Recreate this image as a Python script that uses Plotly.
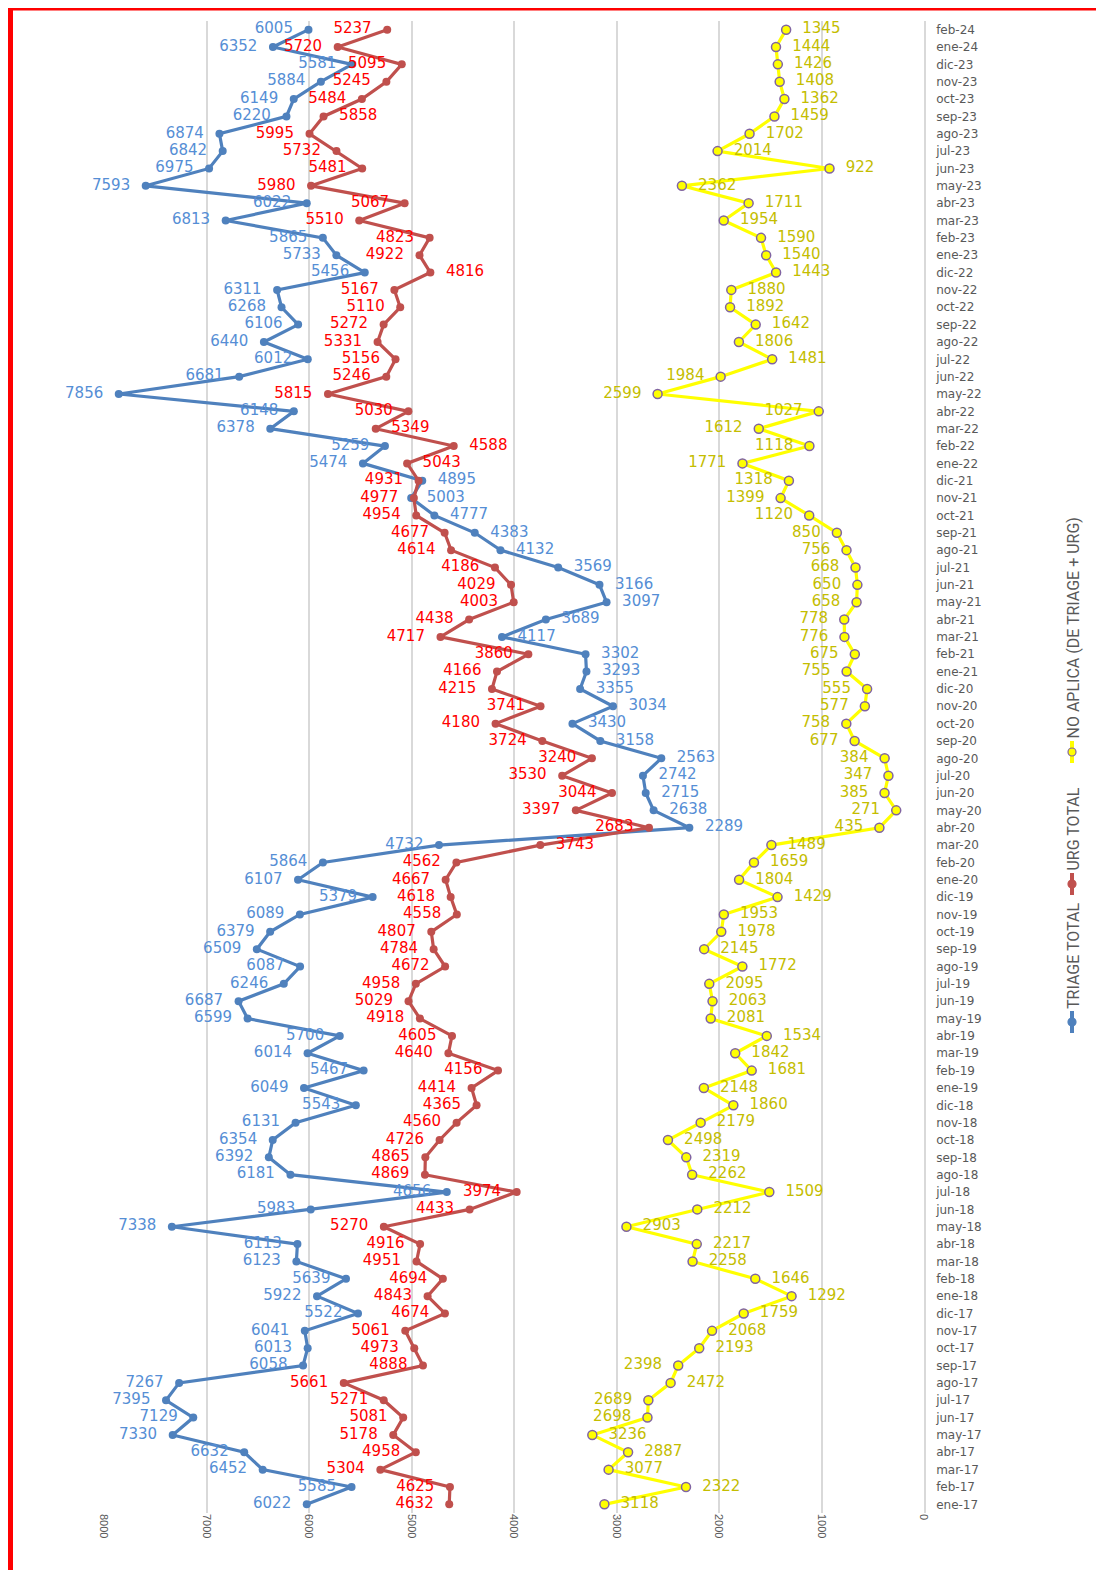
import plotly.graph_objects as go

months = [
    "ene-17", "feb-17", "mar-17", "abr-17", "may-17", "jun-17", "jul-17", "ago-17", "sep-17", "oct-17", "nov-17", "dic-17",
    "ene-18", "feb-18", "mar-18", "abr-18", "may-18", "jun-18", "jul-18", "ago-18", "sep-18", "oct-18", "nov-18", "dic-18",
    "ene-19", "feb-19", "mar-19", "abr-19", "may-19", "jun-19", "jul-19", "ago-19", "sep-19", "oct-19", "nov-19", "dic-19",
    "ene-20", "feb-20", "mar-20", "abr-20", "may-20", "jun-20", "jul-20", "ago-20", "sep-20", "oct-20", "nov-20", "dic-20",
    "ene-21", "feb-21", "mar-21", "abr-21", "may-21", "jun-21", "jul-21", "ago-21", "sep-21", "oct-21", "nov-21", "dic-21",
    "ene-22", "feb-22", "mar-22", "abr-22", "may-22", "jun-22", "jul-22", "ago-22", "sep-22", "oct-22", "nov-22", "dic-22",
    "ene-23", "feb-23", "mar-23", "abr-23", "may-23", "jun-23", "jul-23", "ago-23", "sep-23", "oct-23", "nov-23", "dic-23",
    "ene-24", "feb-24",
]

triage_total = [
    6022, 5585, 6452, 6632, 7330, 7129, 7395, 7267, 6058, 6013, 6041, 5522,
    5922, 5639, 6123, 6113, 7338, 5983, 4656, 6181, 6392, 6354, 6131, 5543,
    6049, 5467, 6014, 5700, 6599, 6687, 6246, 6087, 6509, 6379, 6089, 5379,
    6107, 5864, 4732, 2289, 2638, 2715, 2742, 2563, 3158, 3430, 3034, 3355,
    3293, 3302, 4117, 3689, 3097, 3166, 3569, 4132, 4383, 4777, 5003, 4895,
    5474, 5259, 6378, 6148, 7856, 6681, 6012, 6440, 6106, 6268, 6311, 5456,
    5733, 5865, 6813, 6022, 7593, 6975, 6842, 6874, 6220, 6149, 5884, 5581,
    6352, 6005,
]

urg_total = [
    4632, 4625, 5304, 4958, 5178, 5081, 5271, 5661, 4888, 4973, 5061, 4674,
    4843, 4694, 4951, 4916, 5270, 4433, 3974, 4869, 4865, 4726, 4560, 4365,
    4414, 4156, 4640, 4605, 4918, 5029, 4958, 4672, 4784, 4807, 4558, 4618,
    4667, 4562, 3743, 2683, 3397, 3044, 3530, 3240, 3724, 4180, 3741, 4215,
    4166, 3860, 4717, 4438, 4003, 4029, 4186, 4614, 4677, 4954, 4977, 4931,
    5043, 4588, 5349, 5030, 5815, 5246, 5156, 5331, 5272, 5110, 5167, 4816,
    4922, 4823, 5510, 5067, 5980, 5481, 5732, 5995, 5858, 5484, 5245, 5095,
    5720, 5237,
]

no_aplica = [
    3118, 2322, 3077, 2887, 3236, 2698, 2689, 2472, 2398, 2193, 2068, 1759,
    1292, 1646, 2258, 2217, 2903, 2212, 1509, 2262, 2319, 2498, 2179, 1860,
    2148, 1681, 1842, 1534, 2081, 2063, 2095, 1772, 2145, 1978, 1953, 1429,
    1804, 1659, 1489, 435, 271, 385, 347, 384, 677, 758, 577, 555,
    755, 675, 776, 778, 658, 650, 668, 756, 850, 1120, 1399, 1318,
    1771, 1118, 1612, 1027, 2599, 1984, 1481, 1806, 1642, 1892, 1880, 1443,
    1540, 1590, 1954, 1711, 2362, 922, 2014, 1702, 1459, 1362, 1408, 1426,
    1444, 1345,
]

series_names = ["TRIAGE TOTAL", "URG TOTAL", "NO APLICA (DE TRIAGE + URG)"]
value_ticks = [0, 1000, 2000, 3000, 4000, 5000, 6000, 7000, 8000]

# label placement exceptions (screen side)
blue_right = set(months[months.index("abr-20"):months.index("dic-21") + 1])
red_right = {"mar-20", "ene-22", "feb-22", "mar-22", "dic-22", "sep-23"}
yellow_left = set(months[months.index("abr-20"):months.index("jun-22") + 1]) | {"jun-17", "jul-17", "sep-17"}

# the page has an 8px body margin: work in page pixels, convert to figure pixels
OFF = 8
W, H = 1088, 1562
PL, PR, PT, PB = 104, 924, 21, 1513          # plot area in page pixels
L, T = PL - OFF, PT - OFF
PW, PH = PR - PL, PB - PT
R, B = W - L - PW, H - T - PH


def px(xp):
    return (xp - PL) / PW


def py(yp):
    return (PB - yp) / PH


NB = "\u00a0\u00a0"


def labels(vals, right_flags):
    return [(NB + str(v)) if r else (str(v) + NB) for v, r in zip(vals, right_flags)]


lab_font = "DejaVu Sans, Arial, sans-serif"
fig = go.Figure()

b_r = [m in blue_right for m in months]
fig.add_trace(go.Scatter(
    x=triage_total, y=months, name=series_names[0], mode="lines+markers+text",
    line=dict(color="#4F81BD", width=3.2),
    marker=dict(color="#4F81BD", size=8),
    text=labels(triage_total, b_r),
    textposition=["middle right" if r else "middle left" for r in b_r],
    textfont=dict(color="#558ED5", size=15, family=lab_font),
    cliponaxis=False,
))
r_r = [m in red_right for m in months]
fig.add_trace(go.Scatter(
    x=urg_total, y=months, name=series_names[1], mode="lines+markers+text",
    line=dict(color="#C0504D", width=3.2),
    marker=dict(color="#C0504D", size=8),
    text=labels(urg_total, r_r),
    textposition=["middle right" if r else "middle left" for r in r_r],
    textfont=dict(color="#FF0000", size=15, family=lab_font),
    cliponaxis=False,
))
y_r = [m not in yellow_left for m in months]
fig.add_trace(go.Scatter(
    x=no_aplica, y=months, name=series_names[2], mode="lines+markers+text",
    line=dict(color="#FFFF00", width=3.2),
    marker=dict(color="#FFFF00", size=9, line=dict(color="#8064A2", width=1.5)),
    text=labels(no_aplica, y_r),
    textposition=["middle right" if r else "middle left" for r in y_r],
    textfont=dict(color="#C4BD00", size=15, family=lab_font),
    cliponaxis=False,
))

shapes = []
annotations = []
# custom rotated legend
legend_items = [
    (series_names[0], "#4F81BD", "#4F81BD", 1022),
    (series_names[1], "#C0504D", "#C0504D", 884),
    (series_names[2], "#FFFF00", "#8064A2", 752),
]
lx = 1072
for name, col, edge, ym in legend_items:
    shapes.append(dict(type="line", xref="paper", yref="paper",
                       x0=px(lx), x1=px(lx), y0=py(ym + 11), y1=py(ym - 11),
                       line=dict(color=col, width=4)))
    shapes.append(dict(type="circle", xref="paper", yref="paper",
                       x0=px(lx - 4), x1=px(lx + 4), y0=py(ym + 4), y1=py(ym - 4),
                       fillcolor=col, line=dict(color=edge, width=1.2)))
    annotations.append(dict(text=name, xref="paper", yref="paper",
                            x=px(lx + 1), y=py(ym - 11), xanchor="center", yanchor="bottom",
                            textangle=-90, showarrow=False,
                            font=dict(family="Liberation Sans Narrow, Roboto, sans-serif", size=16, color="#595959")))

# red frame (left and top edges of the picture)
shapes.append(dict(type="rect", xref="paper", yref="paper",
                   x0=px(OFF), x1=px(OFF + 5), y0=py(OFF), y1=py(OFF + H + 10),
                   fillcolor="#FF0000", line=dict(width=0), layer="above"))
shapes.append(dict(type="rect", xref="paper", yref="paper",
                   x0=px(OFF), x1=px(OFF + W + 10), y0=py(OFF), y1=py(OFF + 2.5),
                   fillcolor="#FF0000", line=dict(width=0), layer="above"))

fig.update_layout(
    width=W, height=H,
    margin=dict(l=L, r=R, t=T, b=B),
    paper_bgcolor="white", plot_bgcolor="white",
    showlegend=False,
    shapes=shapes, annotations=annotations,
    xaxis=dict(range=[8000, 0], tickvals=value_ticks, tickangle=90,
               showgrid=True, gridcolor="#D9D9D9", gridwidth=1.5,
               zeroline=False, showline=False, ticks="",
               tickfont=dict(family="Liberation Sans, Arial, sans-serif", size=11, color="#595959")),
    yaxis=dict(type="category", categoryorder="array", categoryarray=months,
               range=[-0.5, len(months) - 0.5], side="right",
               showgrid=False, zeroline=False, showline=True, linecolor="#D9D9D9", linewidth=1.5,
               ticks="", ticklabelstandoff=8,
               tickfont=dict(family="DejaVu Sans, Arial, sans-serif", size=12, color="#595959")),
)

fig.write_html("out.html")
